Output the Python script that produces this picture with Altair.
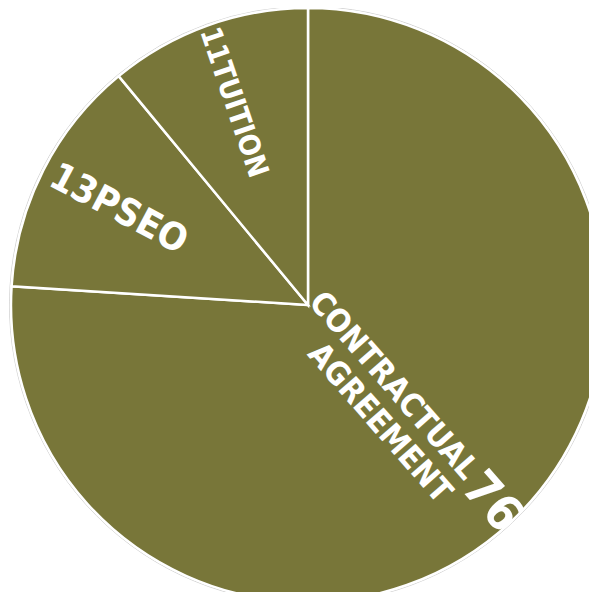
import altair as alt
import pandas as pd

# ---- data ----
categories = ["CONTRACTUAL AGREEMENT", "PSEO", "TUITION"]
values = [76, 13, 11]
order = [0, 1, 2]

df = pd.DataFrame({"category": categories, "value": values, "order": order})

OLIVE = "#787639"
CX, CY, R = 300, 297, 297
FONT = "DejaVu Sans Condensed"

theta_stack = alt.Theta("value:Q", stack=True)

outline = alt.Chart(df).mark_arc(
    radius=R + 1.5, fillOpacity=0, stroke="#d2d2d2", strokeWidth=1
).encode(theta=theta_stack, order=alt.Order("order:Q"),
         x=alt.value(CX), y=alt.value(CY))

slices = alt.Chart(df).mark_arc(
    radius=R, color=OLIVE, stroke="white", strokeWidth=2.5
).encode(theta=theta_stack, order=alt.Order("order:Q"),
         x=alt.value(CX), y=alt.value(CY))

tbase = (
    alt.Chart(df)
    .transform_window(cum="sum(value)", sort=[alt.SortField("order")], frame=[None, 0])
    .transform_joinaggregate(total="sum(value)")
    .transform_calculate(mid="datum.cum - datum.value / 2")
    .transform_calculate(deg="360 * datum.mid / datum.total")
    .transform_calculate(rot="datum.deg < 180 ? datum.deg - 88 : datum.deg - 269")
    .transform_calculate(label="datum.value + datum.category")
)

enc = dict(theta=alt.Theta("mid:Q"), angle=alt.Angle("rot:Q", scale=None),
           x=alt.value(CX), y=alt.value(CY))

contract_name = tbase.transform_filter(alt.datum.order == 0).mark_text(
    radius=236, align="right", baseline="middle", lineBreak=" ", dy=-3,
    lineHeight=35, font=FONT, fontWeight="bold", fontSize=32, color="white"
).encode(text="category:N", **enc)

contract_val = tbase.transform_filter(alt.datum.order == 0).mark_text(
    radius=239, align="left", baseline="middle", dy=0,
    font=FONT, fontWeight="bold", fontSize=49, color="white"
).encode(text="value:Q", **enc)

pseo = tbase.transform_filter(alt.datum.order == 1).mark_text(
    radius=287, align="left", baseline="middle",
    font=FONT, fontWeight="bold", fontSize=38, color="white"
).encode(text="label:N", **enc)

tuition = tbase.transform_filter(alt.datum.order == 2).mark_text(
    radius=294, align="left", baseline="middle",
    font=FONT, fontWeight="bold", fontSize=29, color="white"
).encode(text="label:N", **enc)

chart = alt.layer(outline, slices, contract_name, contract_val, pseo, tuition).properties(
    width=581, height=584, padding=0,
    autosize=alt.AutoSizeParams(type="none"),
).configure_view(stroke=None)

chart.save("out.html", embed_options={"renderer": "svg", "actions": False})
